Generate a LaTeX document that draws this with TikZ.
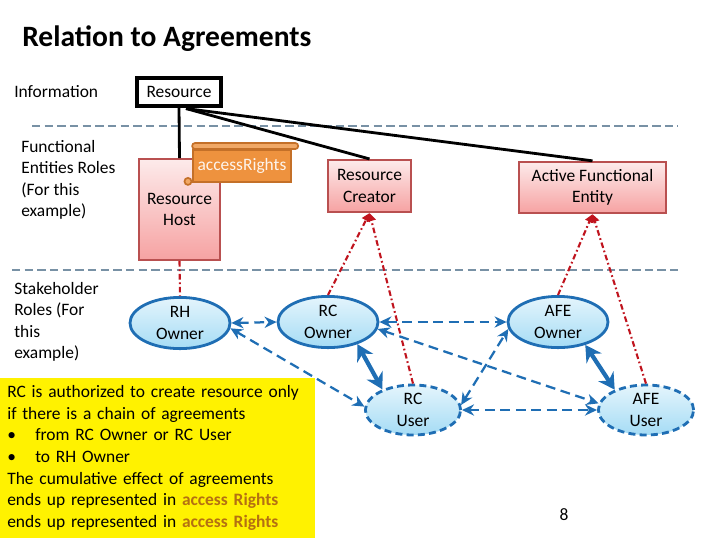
\documentclass[tikz,border=0pt]{standalone}
\usepackage{fontspec}
\setmainfont{Carlito}
\usetikzlibrary{arrows.meta,positioning,calc,shapes.geometric}
\definecolor{agBlue}{RGB}{31,110,180}
\definecolor{agSky}{RGB}{165,220,245}
\definecolor{agRed}{RGB}{192,20,30}
\definecolor{agRose}{RGB}{185,80,80}
\definecolor{agPink}{RGB}{246,162,162}
\definecolor{agOrange}{RGB}{238,146,62}
\definecolor{agOrangeD}{RGB}{196,112,40}
\definecolor{agBrown}{RGB}{180,112,18}
\definecolor{agSep}{RGB}{120,145,165}
\newcommand{\bodyfont}{\fontsize{12.4}{15.3}\selectfont}
\tikzset{
  rowlab/.style={inner sep=0pt, align=left, font=\bodyfont},
  res/.style={rectangle, draw=black, line width=2.2pt, fill=white, font=\bodyfont,
              minimum width=2.1cm, minimum height=0.7cm},
  fe/.style={rectangle, draw=agRose, line width=1.5pt, top color=agPink!22!white,
             bottom color=agPink, align=center, font=\bodyfont, inner sep=2pt},
  scroll/.style={rectangle, draw=agOrangeD, line width=1.4pt, fill=agOrange,
                 text=white!90!agOrange, font=\bodyfont, minimum width=2.45cm, minimum height=0.82cm},
  scrollroll/.style={draw=agOrangeD, line width=1.2pt, fill=agOrange!80!white, rounded corners=2pt},
  owner/.style={ellipse, draw=agBlue, line width=2pt, top color=agSky!30!white,
                bottom color=agSky, minimum width=2.5cm, minimum height=1.28cm, inner sep=0pt},
  user/.style={owner, dash pattern=on 5pt off 3pt, minimum width=2.38cm, minimum height=1.25cm},
  who/.style={label={[font=\bodyfont, align=center]center:#1}},
  tie/.style={draw=black, line width=2pt},
  link/.style={draw=agRed, line width=1.5pt, dash pattern=on 4pt off 2pt on 1.2pt off 2pt},
  linkto/.style={link, -{Triangle[length=2mm,width=2.2mm]}},
  agree/.style={{Stealth[length=3mm,width=2.8mm]}-{Stealth[length=3mm,width=2.8mm]},
                draw=agBlue, line width=1.6pt, dash pattern=on 7pt off 4pt},
  bind/.style={{Stealth[length=4mm,width=4.5mm]}-{Stealth[length=4mm,width=4.5mm]},
               draw=agBlue, line width=3pt},
  sep/.style={draw=agSep, line width=0.8pt, dash pattern=on 6pt off 3pt},
  note/.style={rectangle, fill=yellow, align=left, font=\bodyfont, inner xsep=0.175cm,
               text width=7.525cm, minimum height=3.98cm},
}
\begin{document}
\begin{tikzpicture}[x=0.025cm, y=-0.025cm]
\useasboundingbox (0,0) rectangle (720,540);
% title and row labels
\node[anchor=west, inner sep=0pt, font=\fontsize{21}{25}\selectfont\bfseries] (title) at (22,39) {Relation to Agreements};
\node[rowlab, anchor=west] (info) at (14,92) {Information};
\node[rowlab, anchor=north west] (ferow) at (21,140) {Functional\\Entities Roles\\(For this\\example)};
\node[rowlab, anchor=north west] (shrow) at (14,282) {Stakeholder\\Roles (For\\this\\example)};
\draw[sep] (32,126) -- (678,126);
\draw[sep] (12,270) -- (678,270);

% information and functional entities
\node[res] (res) at (179,92) {Resource};
\node[fe, minimum width=2.03cm, minimum height=2.52cm] (rh) at (179.5,209.5) {Resource\\Host};
\node[fe, minimum width=2.08cm, minimum height=1.3cm] (rc) at (369.5,186) {Resource\\Creator};
\node[fe, minimum width=3.68cm, minimum height=1.28cm] (afe) at (592.5,187.5) {Active Functional\\Entity};

% access rights scroll
\draw[scrollroll] ($(rh.north east)+(-29,-15)$) rectangle ($(rh.north east)+(77,-9)$);
\node[scroll] (acc) at (242,166) {accessRights};
\draw[scrollroll] ($(acc.south west)+(-4,-2)$) circle[radius=2.5pt];

\coordinate (rsd) at ($(res.south)+(7,1)$);
\draw[tie] (res.south) -- (rh.north);
\draw[tie] (rsd) -- (rc.north);
\draw[tie] (rsd) -- (afe.north);

% stakeholders
\node[owner, who={RH\\Owner}] (rho) at (180,323) {};
\node[owner, who={RC\\Owner}] (rco) at (328,322) {};
\node[owner, who={AFE\\Owner}] (afeo) at (558,322) {};
\node[user, who={RC\\User}] (rcu) at (413,410) {};
\node[user, who={AFE\\User}] (afeu) at (646,410) {};

\draw[link] (rh.south) -- (rho.north);
\draw[linkto] (rco.north) -- (rc.south);
\draw[linkto] (rcu.north) -- (rc.south);
\draw[linkto] (afeo.north) -- (afe.south);
\draw[linkto] (afeu.north) -- (afe.south);

% agreements
\draw[agree] (rho.east) -- (rco.west);
\draw[agree] (rco.east) -- (afeo.west);
\draw[agree] (rho.-6) -- (rcu.176);
\draw[agree] (rco.-8) -- (afeu.172);
\draw[agree] (rcu.6) -- (afeo.188);
\draw[agree] (rcu.east) -- (afeu.west);
\draw[bind] (rco.-37) -- (rcu.146);
\draw[bind] (afeo.-40) -- (afeu.147);

% note
\node[note, anchor=north west] (note) at (0,378) {RC is authorized to create resource only\\
if there is a chain of agreements\\
\makebox[0.7cm][l]{\textbullet}from RC Owner or RC User\\
\makebox[0.7cm][l]{\textbullet}to RH Owner\\
The cumulative effect of agreements\\
ends up represented in {\color{agBrown}\bfseries access Rights}\\
ends up represented in {\color{agBrown}\bfseries access Rights}};
\node[font=\bodyfont, inner sep=0pt] (page) at (564,515) {8};
\end{tikzpicture}
\end{document}
